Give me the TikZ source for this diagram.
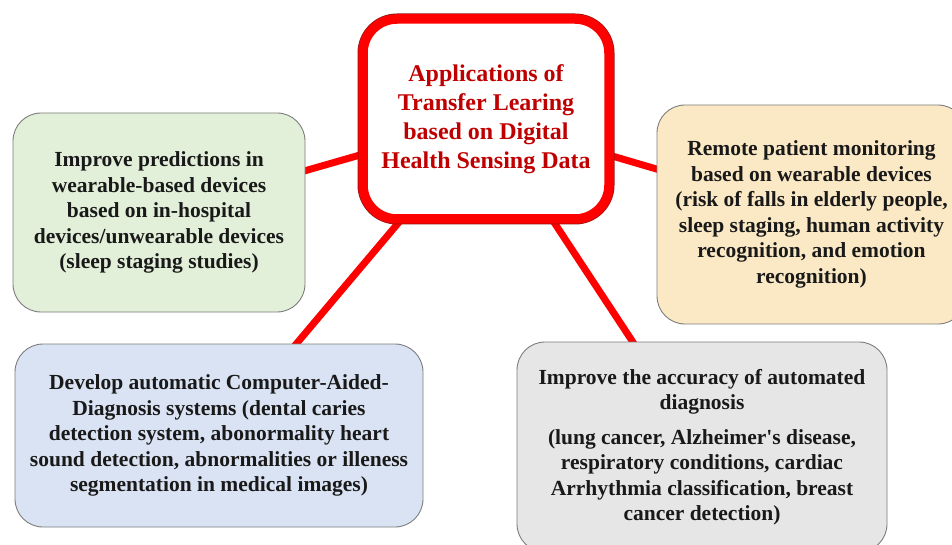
\documentclass[tikz,border=0pt]{standalone}
\usepackage{fontspec}
\setmainfont{Liberation Serif}
\usetikzlibrary{backgrounds}

\definecolor{hubred}{RGB}{255,0,0}
\definecolor{hubedge}{RGB}{150,20,20}
\definecolor{hubtext}{RGB}{192,0,0}
\definecolor{boxedge}{RGB}{125,125,125}
\definecolor{greenfill}{RGB}{226,239,217}
\definecolor{peachfill}{RGB}{251,233,197}
\definecolor{bluefill}{RGB}{218,227,243}
\definecolor{greyfill}{RGB}{231,230,230}
\definecolor{inktext}{RGB}{25,25,25}

\tikzset{
  hub/.style={rectangle, rounded corners=34pt, fill=white, draw=hubred,
    line width=9.5pt, preaction={draw=hubedge, line width=11pt},
    align=center, text=hubtext, inner sep=0pt,
    font=\fontsize{24}{29}\selectfont\bfseries},
  topic/.style={rectangle, rounded corners=28pt, draw=boxedge, line width=0.9pt,
    align=center, text=inktext, inner sep=0pt,
    font=\fontsize{21.5}{25.5}\selectfont\bfseries},
  link/.style={draw=hubred, line width=7pt}
}

\begin{document}
\begin{tikzpicture}[x=1pt, y=-1pt]
  \clip (0,0) rectangle (952,545);

  % central theme
  \node[hub, minimum width=246pt, minimum height=200pt] (hub) at (486,119)
    {Applications of\\Transfer Learing\\based on Digital\\Health Sensing Data};

  % application areas
  \node[topic, fill=greenfill, minimum width=292pt, minimum height=199pt] (wear) at (159,212.5)
    {Improve predictions in\\wearable-based devices\\based on in-hospital\\devices/unwearable devices\\(sleep staging studies)};

  \node[topic, fill=peachfill, minimum width=309pt, minimum height=219pt] (remote) at (811.5,214.5)
    {Remote patient monitoring\\based on wearable devices\\(risk of falls in elderly people,\\sleep staging, human activity\\recognition, and emotion\\recognition)};

  \node[topic, fill=bluefill, minimum width=408pt, minimum height=183pt] (cad) at (219,435.5)
    {Develop automatic Computer-Aided-\\Diagnosis systems (dental caries\\detection system, abonormality heart\\sound detection, abnormalities or illeness\\segmentation in medical images)};

  \node[topic, fill=greyfill, minimum width=370pt, minimum height=210pt] (diag) at (702,447)
    {Improve the accuracy of automated\\diagnosis\\[9pt](lung cancer, Alzheimer\textquotesingle s disease,\\respiratory conditions, cardiac\\Arrhythmia classification, breast\\cancer detection)};

  % white page, then the spokes from the theme to each area, under the boxes
  \begin{pgfonlayer}{background}
    \fill[white] (0,0) rectangle (952,545);
    \draw[link] (hub.center) -- (wear.center);
    \draw[link] (hub.center) -- (remote.center);
    \draw[link] (hub.center) -- (cad.center);
    \draw[link] (hub.center) -- (diag.center);
  \end{pgfonlayer}
\end{tikzpicture}
\end{document}
